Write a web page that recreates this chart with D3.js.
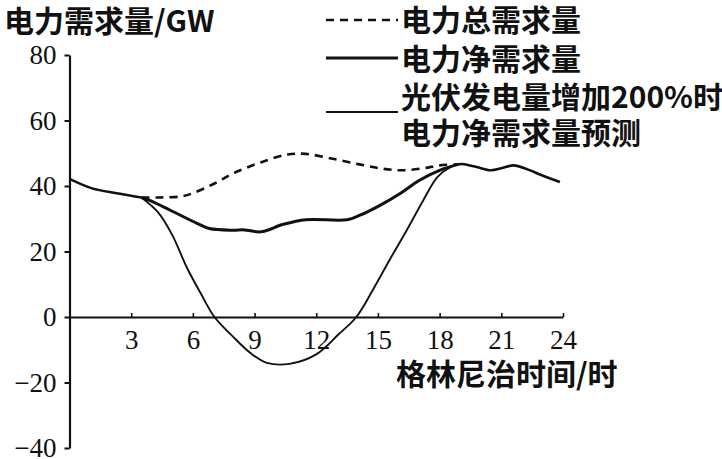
<!DOCTYPE html>
<html><head><meta charset="utf-8">
<script src="https://cdn.jsdelivr.net/npm/d3@7"></script>
<style>body{margin:0;background:#fff}svg{display:block}</style>
</head><body>
<svg id="c" width="722" height="459"></svg>
<script>
// ---- data (hour, GW) ----
const commonStart = [[0,42.2],[1.1,39.3],[2.3,37.8],[3.5,36.5]];
const totalDemand = [[3.5,36.5],[4.4,36.5],[5.4,36.8],[6.0,37.8],[7.0,40.6],[7.95,43.8],[9.3,47.2],[10.6,49.6],[11.5,49.8],[12.8,48.3],[14.1,46.6],[15.2,45.3],[16.2,44.8],[17.2,45.4],[18.0,46.3],[18.9,46.6]];
const netDemand = [[3.5,36.5],[3.9,35.6],[4.9,32.6],[6.2,28.6],[6.8,27.0],[7.95,26.5],[8.5,26.6],[9.3,26.0],[10.4,28.3],[11.5,29.7],[13.5,29.7],[14.1,31.0],[15.1,34.1],[16.1,37.8],[17.0,41.7],[18.0,44.8],[18.9,46.6]];
const forecast = [[3.5,36.5],[4.3,32.0],[5.0,25.0],[5.7,15.2],[6.4,7.0],[7.05,0],[7.95,-6.0],[8.8,-11.0],[9.6,-14.0],[10.7,-14.3],[12.0,-11.4],[13.1,-5.2],[13.95,0],[14.8,8.8],[15.6,17.8],[16.4,26.5],[17.2,35.6],[17.9,42.8],[18.5,45.7],[18.9,46.6]];
const commonEnd = [[18.9,46.6],[19.1,46.7],[19.8,45.8],[20.5,44.8],[21.0,45.4],[21.6,46.3],[22.3,45.0],[23.0,43.2],[23.85,41.2]];
const xTicks = [3,6,9,12,15,18,21,24];
const yTicks = [-40,-20,0,20,40,60,80];
const legendLabels = ["电力总需求量","电力净需求量","光伏发电量增加200%时","电力净需求量预测"];
const yTitle = "电力需求量/GW";
const xTitle = "格林尼治时间/时";

const svg = d3.select("#c");
const x = d3.scaleLinear().domain([0,24]).range([69.5,563]);
const y = d3.scaleLinear().domain([-40,80]).range([448,55]);
const ink = "#111";
const cjk = "'Noto Sans CJK SC', sans-serif";
const num = "'Liberation Serif', 'DejaVu Serif', serif";

// y axis
const ya = svg.append("g").attr("transform",`translate(${x(0)},0)`)
  .call(d3.axisLeft(y).tickValues(yTicks).tickSize(5).tickPadding(8).tickSizeOuter(0)
    .tickFormat(d=> d<0 ? "\u2212"+Math.abs(d) : d));
ya.select(".domain").attr("stroke",ink).attr("stroke-width",2.2);
ya.selectAll(".tick line").attr("stroke",ink).attr("stroke-width",2);
ya.selectAll(".tick text").style("font-family",num).style("font-size","27px").attr("fill",ink);

// x axis at y=0
const xa = svg.append("g").attr("transform",`translate(0,${y(0)})`)
  .call(d3.axisBottom(x).tickValues(xTicks).tickSize(-4).tickPadding(9).tickSizeOuter(0));
xa.select(".domain").attr("stroke",ink).attr("stroke-width",2.2);
xa.selectAll(".tick line").attr("stroke",ink).attr("stroke-width",1.6);
xa.selectAll(".tick text").style("font-family",num).style("font-size","27px").attr("fill",ink).attr("dy","0.85em");

const line = d3.line().x(d=>x(d[0])).y(d=>y(d[1])).curve(d3.curveCatmullRom.alpha(0.5));
const draw = (data,w,dash)=> svg.append("path").datum(data).attr("d",line)
  .attr("fill","none").attr("stroke",ink).attr("stroke-width",w)
  .attr("stroke-dasharray",dash||null).attr("stroke-linecap","butt");

draw(commonStart,2.4);
draw(totalDemand,2.6,"8,6");
draw(netDemand,3);
draw(forecast,1.9);
draw(commonEnd,2.6);

// titles
const txt = (xx,yy,s)=> svg.append("text").attr("x",xx).attr("y",yy).attr("dy","0.36em")
  .attr("font-family",cjk).attr("font-size",30).attr("font-weight",700).attr("fill",ink).text(s);
txt(4,21,yTitle);
txt(396,374,xTitle);

// legend
const lx0 = 326, lx1 = 398, tx = 401;
svg.append("line").attr("x1",lx0).attr("x2",lx1).attr("y1",20).attr("y2",20)
  .attr("stroke",ink).attr("stroke-width",2.6).attr("stroke-dasharray","8,6");
svg.append("line").attr("x1",lx0).attr("x2",lx1).attr("y1",58).attr("y2",58)
  .attr("stroke",ink).attr("stroke-width",3);
svg.append("line").attr("x1",lx0).attr("x2",lx1).attr("y1",112).attr("y2",112)
  .attr("stroke",ink).attr("stroke-width",2);
[[20,0],[59,1],[97,2],[133,3]].forEach(([yy,i])=> txt(tx,yy,legendLabels[i]));
</script>
</body></html>
